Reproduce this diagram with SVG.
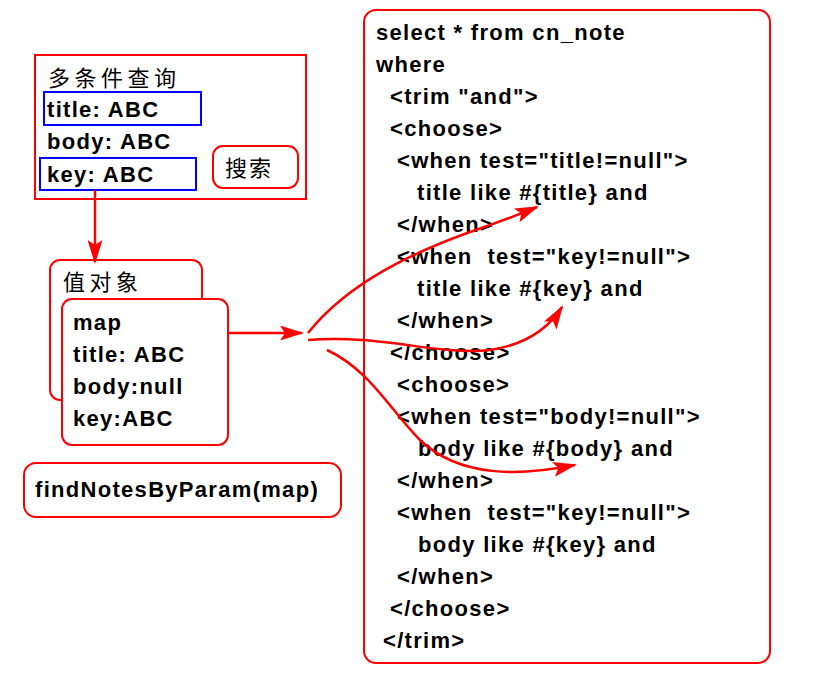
<svg xmlns="http://www.w3.org/2000/svg" width="829" height="678" viewBox="0 0 829 678">
<style>
.box{fill:#fff;stroke:#ff0000;stroke-width:2}
.blue{fill:none;stroke:#0000ff;stroke-width:2}
.t{font-family:"Liberation Sans",Arial,sans-serif;font-weight:bold;font-size:22px;letter-spacing:1.3px;fill:#000}
.cn{font-family:"Noto Sans CJK SC",sans-serif;font-size:22px;letter-spacing:4.5px;fill:#000}
.con{fill:none;stroke:#ff0000;stroke-width:2.5}
</style>
<defs>
<marker id="ah" markerWidth="24" markerHeight="15" refX="22" refY="7.5" orient="auto" markerUnits="userSpaceOnUse">
<path d="M0,0 L24,7.5 L0,15 L5,7.5 Z" fill="#ff0000"/>
</marker>
</defs>
<rect width="829" height="678" fill="#fff"/>

<g id="search-form">
<rect class="box" x="35" y="55" width="271" height="144"/>
<text class="cn" x="48" y="86">多条件查询</text>
<rect class="blue" x="44" y="92" width="157" height="33"/>
<text class="t" x="47" y="117">title: ABC</text>
<text class="t" x="47" y="149">body: ABC</text>
<rect class="blue" x="40" y="158" width="156" height="32"/>
<text class="t" x="47" y="182">key: ABC</text>
</g>
<g id="search-button">
<rect class="box" x="213" y="146" width="85" height="42" rx="10"/>
<text class="cn" x="225" y="176" style="letter-spacing:2px">搜索</text>
</g>

<g id="value-object">
<rect class="box" x="50" y="260" width="152" height="140" rx="10"/>
<text class="cn" x="63" y="290">值对象</text>
</g>
<g id="map">
<rect class="box" x="62" y="299" width="166" height="146" rx="10"/>
<text class="t" x="73" y="330">map</text>
<text class="t" x="73" y="362">title: ABC</text>
<text class="t" x="73" y="394">body:null</text>
<text class="t" x="73" y="426">key:ABC</text>
</g>
<g id="method">
<rect class="box" x="24" y="463" width="317" height="54" rx="12"/>
<text class="t" x="35" y="497">findNotesByParam(map)</text>
</g>

<g id="sql">
<rect class="box" x="364" y="10" width="406" height="653" rx="12"/>
<text class="t" x="376" y="40">select * from cn_note</text>
<text class="t" x="376" y="72">where</text>
<text class="t" x="390" y="104">&lt;trim "and"&gt;</text>
<text class="t" x="390" y="136">&lt;choose&gt;</text>
<text class="t" x="397" y="168">&lt;when test="title!=null"&gt;</text>
<text class="t" x="417" y="200">title like #{title} and</text>
<text class="t" x="397" y="232">&lt;/when&gt;</text>
<text class="t" x="397" y="264" xml:space="preserve">&lt;when  test="key!=null"&gt;</text>
<text class="t" x="417" y="296">title like #{key} and</text>
<text class="t" x="397" y="328">&lt;/when&gt;</text>
<text class="t" x="390" y="360">&lt;/choose&gt;</text>
<text class="t" x="397" y="392">&lt;choose&gt;</text>
<text class="t" x="397" y="424">&lt;when test="body!=null"&gt;</text>
<text class="t" x="418" y="456">body like #{body} and</text>
<text class="t" x="397" y="488">&lt;/when&gt;</text>
<text class="t" x="397" y="520" xml:space="preserve">&lt;when  test="key!=null"&gt;</text>
<text class="t" x="418" y="552">body like #{key} and</text>
<text class="t" x="397" y="584">&lt;/when&gt;</text>
<text class="t" x="390" y="616">&lt;/choose&gt;</text>
<text class="t" x="383" y="648">&lt;/trim&gt;</text>
</g>

<g id="connectors">
<path class="con" d="M95,190 L95,262" marker-end="url(#ah)"/>
<path class="con" d="M228,333 L302,333" marker-end="url(#ah)"/>
<path class="con" d="M308,333 C350,280 420,250 470,232 C500,222 520,214 537,207" marker-end="url(#ah)"/>
<path class="con" d="M308,340 C380,334 440,356 490,350 C530,344 550,326 562,307" marker-end="url(#ah)"/>
<path class="con" d="M327,350 C370,370 390,410 420,440 C460,478 520,476 575,465" marker-end="url(#ah)"/>
</g>
</svg>
